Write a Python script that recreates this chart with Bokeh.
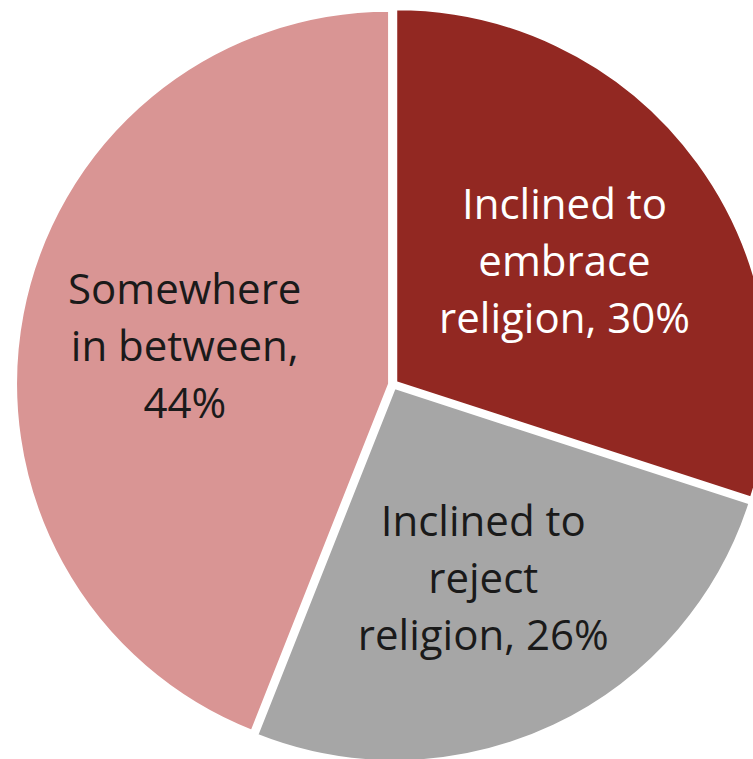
import math
from bokeh.plotting import figure
from bokeh.models import Range1d, ColumnDataSource
from bokeh.core.properties import value
from bokeh.embed import file_html
from bokeh.resources import INLINE

# ---- data ----
categories = ["Inclined to embrace religion", "Inclined to reject religion", "Somewhere in between"]
shares = [30, 26, 44]
label_lines = [["Inclined to", "embrace", "religion, 30%"],
               ["Inclined to", "reject", "religion, 26%"],
               ["Somewhere", "in between,", "44%"]]
colors = ["#922822", "#A6A6A6", "#D99594"]
text_colors = ["#FFFFFF", "#1A1A1A", "#1A1A1A"]

# ---- geometry (image pixel space, y flipped) ----
W, H = 753, 759
cx_img, cy_img = 392.5, 384
R = 373
explode = 4
label_r = 212
line_gap = 57

p = figure(width=W, height=H, output_backend="svg", toolbar_location=None,
           x_range=Range1d(0, W), y_range=Range1d(0, H), min_border=0)
p.axis.visible = False
p.grid.visible = False
p.outline_line_color = None
p.background_fill_color = "white"

cx, cy = cx_img, H - cy_img
total = sum(shares)
cum = 0
xs, ys, sa, ea = [], [], [], []
tx, ty, tt, tc = [], [], [], []
for i, s in enumerate(shares):
    # clockwise from 12 o'clock
    a0 = cum / total * 2 * math.pi
    a1 = (cum + s) / total * 2 * math.pi
    cum += s
    mid = (a0 + a1) / 2
    dx, dy = math.sin(mid), math.cos(mid)
    xs.append(cx + explode * dx)
    ys.append(cy + explode * dy)
    # bokeh angles: counter-clockwise from +x
    sa.append(math.pi / 2 - a1)
    ea.append(math.pi / 2 - a0)
    lx, ly = cx + label_r * dx, cy + label_r * dy
    n = len(label_lines[i])
    for j, line in enumerate(label_lines[i]):
        tx.append(lx)
        ty.append(ly - (j - (n - 1) / 2) * line_gap)
        tt.append(line)
        tc.append(text_colors[i])

src = ColumnDataSource(dict(x=xs, y=ys, start=sa, end=ea, color=colors, cat=categories))
p.wedge(x="x", y="y", radius=R, start_angle="start", end_angle="end",
        fill_color="color", line_color="white", line_width=2, source=src)

tsrc = ColumnDataSource(dict(x=tx, y=ty, text=tt, color=tc))
p.text(x="x", y="y", text="text", text_color="color", source=tsrc,
       text_font=value("Open Sans"), text_font_size="42px",
       text_align="center", text_baseline="middle")

open("out.html", "w").write(file_html(p, INLINE))
